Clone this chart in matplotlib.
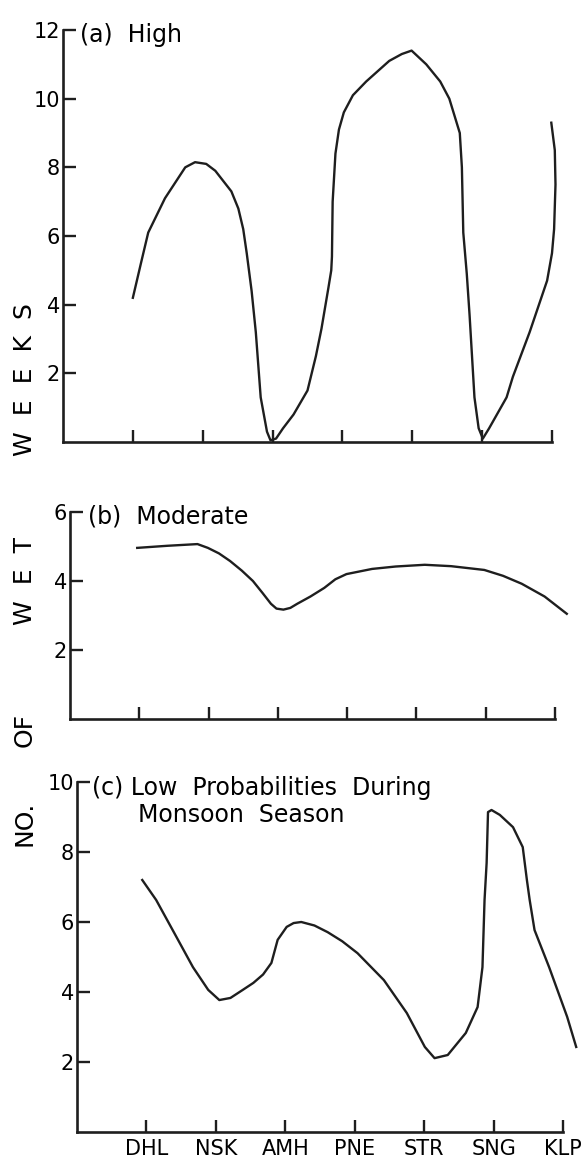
import numpy as np
import matplotlib.pyplot as plt
plt.close("all")

plt.rcParams['font.family'] = ['DejaVu Sans']

stations = ['DHL', 'NSK', 'AMH', 'PNE', 'STR', 'SNG', 'KLP']

# (a) High, x in station units (DHL=1 ... KLP=7)
high_x = [1.00, 1.115, 1.22, 1.46, 1.75, 1.89, 2.05, 2.18, 2.41, 2.51, 2.58, 2.63, 2.70, 2.76, 2.83,
          2.92, 2.97, 3.05, 3.15, 3.3, 3.5, 3.62, 3.7, 3.8, 3.84, 3.85, 3.86, 3.9, 3.95, 4.02,
          4.15, 4.34, 4.67, 4.85, 4.99, 5.2, 5.4, 5.53, 5.62, 5.68, 5.71, 5.73, 5.78, 5.82, 5.89,
          5.95, 6.01, 6.1, 6.35, 6.44, 6.68, 6.93, 7.0, 7.03, 7.05, 7.04, 6.99]
high_y = [4.2, 5.2, 6.1, 7.1, 8.0, 8.15, 8.1, 7.9, 7.3, 6.8, 6.2, 5.5, 4.4, 3.2, 1.3,
          0.3, 0.05, 0.1, 0.4, 0.8, 1.5, 2.5, 3.3, 4.5, 5.0, 5.4, 7.0, 8.4, 9.1, 9.6,
          10.1, 10.5, 11.1, 11.3, 11.4, 11.0, 10.5, 10.0, 9.4, 9.0, 8.0, 6.1, 4.9, 3.7, 1.3,
          0.4, 0.1, 0.4, 1.3, 1.9, 3.2, 4.7, 5.5, 6.2, 7.5, 8.5, 9.3]

# (b) Moderate
mod_x = [0.97, 1.4, 1.84, 1.99, 2.15, 2.31, 2.48, 2.64, 2.78, 2.90, 2.98, 3.08, 3.18, 3.28, 3.47,
         3.67, 3.83, 3.99, 4.36, 4.7, 5.12, 5.5, 5.98, 6.25, 6.52, 6.85, 7.17]
mod_y = [4.96, 5.02, 5.07, 4.96, 4.8, 4.58, 4.3, 4.0, 3.65, 3.34, 3.2, 3.17, 3.22, 3.34, 3.55,
         3.8, 4.05, 4.2, 4.35, 4.42, 4.47, 4.43, 4.32, 4.15, 3.92, 3.55, 3.05]

# (c) Low
low_x = [0.94, 1.14, 1.40, 1.67, 1.89, 2.05, 2.21, 2.38, 2.54, 2.68, 2.80, 2.89, 3.02, 3.12, 3.23,
         3.42, 3.61, 3.82, 4.04, 4.42, 4.75, 5.01, 5.15, 5.34, 5.60, 5.77, 5.84, 5.87, 5.90, 5.92,
         5.97, 6.09, 6.28, 6.42, 6.48, 6.52, 6.59, 6.80, 7.06, 7.19]
low_y = [7.2, 6.63, 5.69, 4.71, 4.06, 3.77, 3.83, 4.05, 4.26, 4.5, 4.83, 5.49, 5.86, 5.97, 6.0,
         5.9, 5.71, 5.45, 5.11, 4.34, 3.4, 2.43, 2.11, 2.2, 2.83, 3.57, 4.71, 6.63, 7.69, 9.14,
         9.2, 9.06, 8.71, 8.14, 7.2, 6.63, 5.77, 4.71, 3.29, 2.43]

W, H = 582, 1159
fig = plt.figure(figsize=(W / 100, H / 100), dpi=100)


def make_ax(left, right, top, bottom):
    return fig.add_axes([left / W, 1 - bottom / H, (right - left) / W, (bottom - top) / H])


axa = make_ax(63, 552, 30, 442)
axb = make_ax(70, 555, 512, 719)
axc = make_ax(77, 563, 782, 1132)

panels = [
    (axa, high_x, high_y, 12, [2, 4, 6, 8, 10, 12]),
    (axb, mod_x, mod_y, 6, [2, 4, 6]),
    (axc, low_x, low_y, 10, [2, 4, 6, 8, 10]),
]

for ax, xs, ys, top, yt in panels:
    ax.plot(xs, ys, color='#1e1e1e', lw=1.7, clip_on=False, solid_joinstyle='round')
    ax.set_xlim(0, 7)
    ax.set_ylim(0, top)
    ax.set_yticks(yt)
    ax.set_xticks(range(1, 8))
    for s in ['top', 'right']:
        ax.spines[s].set_visible(False)
    for s in ['left', 'bottom']:
        ax.spines[s].set_linewidth(1.9)
        ax.spines[s].set_color('#1e1e1e')
    ax.tick_params(direction='in', length=9, width=1.7, color='#1e1e1e',
                   labelsize=15, pad=2)
    ax.patch.set_alpha(0)

axa.set_xticklabels([])
axb.set_xticklabels([])
axc.set_xticklabels(stations, fontsize=15)
axc.tick_params(axis='x', pad=5)

# panel titles
fig.text(80 / W, 1 - 35 / H, '(a)  High', fontsize=17, va='center', ha='left')
fig.text(88 / W, 1 - 517 / H, '(b)  Moderate', fontsize=17, va='center', ha='left')
fig.text(92 / W, 1 - 788 / H, '(c) Low  Probabilities  During', fontsize=17, va='center', ha='left')
fig.text(138 / W, 1 - 815 / H, 'Monsoon  Season', fontsize=17, va='center', ha='left')

# shared vertical label, word by word
for word, yc in [('NO.', 823), ('OF', 730), ('W  E  T', 581), ('W  E  E  K  S', 380)]:
    fig.text(25 / W, 1 - yc / H, word, fontsize=18, rotation=90, va='center', ha='center')

fig.savefig('out.png', dpi=100)
